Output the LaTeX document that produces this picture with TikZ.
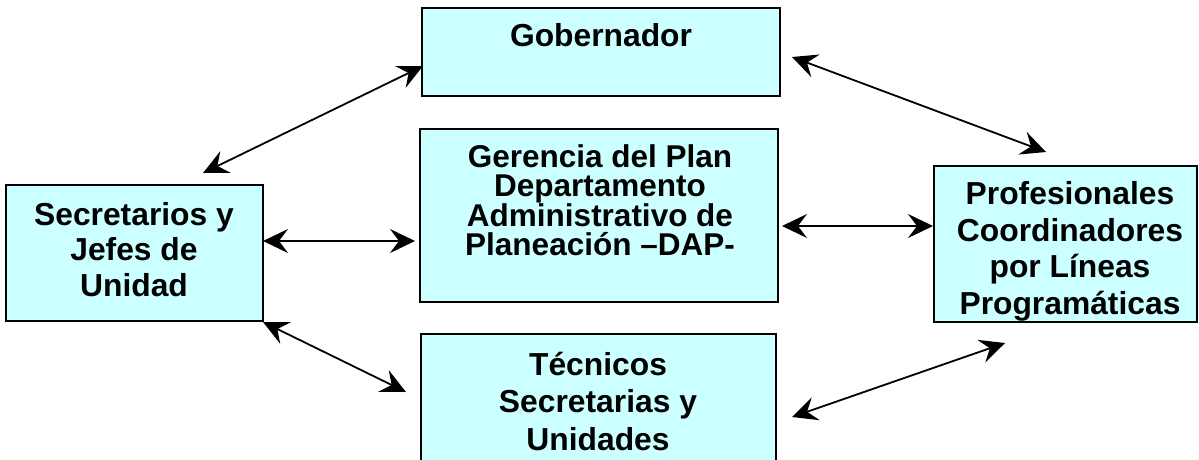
\documentclass[tikz,border=0pt]{standalone}
\usepackage{fontspec}
\setmainfont{Liberation Sans}
\usetikzlibrary{arrows.meta}
\definecolor{boxfill}{HTML}{CCFFFF}
\begin{document}
\begin{tikzpicture}[x=1pt,y=-1pt,
  box/.style={draw=black,line width=1.8pt,fill=boxfill,inner sep=0pt},
  lbl/.style={anchor=base,align=center,inner sep=0pt,font=\bfseries\fontsize{31.8}{36}\selectfont},
  link/.style={line width=1.8pt,{Stealth[length=25pt,width=24pt,inset=9pt]}-{Stealth[length=25pt,width=24pt,inset=9pt]}}]
\useasboundingbox (0,0) rectangle (1199,459);
% boxes
\node[box,minimum width=358pt,minimum height=88pt] (gob) at (601,52) {};
\node[box,minimum width=257pt,minimum height=136pt] (sec) at (134.5,253) {};
\node[box,minimum width=358pt,minimum height=173pt] (ger) at (599,215.5) {};
\node[box,minimum width=263pt,minimum height=156pt] (prof) at (1065.5,244) {};
\node[box,minimum width=355pt,minimum height=140pt] (tec) at (598.5,404) {};
% texts (anchor base = baseline of the last line)
\node[lbl] (tgob) at (601,46) {Gobernador};
\node[lbl,font=\bfseries\fontsize{31.5}{28.6}\selectfont] (tger) at (600,255) {Gerencia del Plan\\Departamento\\Administrativo de\\Planeación –DAP-};
\node[lbl,font=\bfseries\fontsize{31.8}{35.5}\selectfont] (tsec) at (134,296) {Secretarios y\\Jefes de\\Unidad};
\begin{scope}
\clip (prof.south west) rectangle (prof.north east);
\node[lbl,font=\bfseries\fontsize{31.8}{36.5}\selectfont] (tprof) at (1070,314) {Profesionales\\Coordinadores\\por Líneas\\Programáticas};
\end{scope}
\node[lbl,font=\bfseries\fontsize{31.8}{37.5}\selectfont] (ttec) at (598,450) {Técnicos\\Secretarias y\\Unidades};
% connector ends
\coordinate (s1) at (203,173); \coordinate (g1) at (423,66);
\coordinate (g2) at (792,57);  \coordinate (p1) at (1046,152);
\coordinate (s2) at (263,241); \coordinate (e1) at (415,241);
\coordinate (e2) at (782,226); \coordinate (p2) at (933,226);
\coordinate (s3) at (263,322); \coordinate (t1) at (406,392);
\coordinate (t2) at (792,417); \coordinate (p3) at (1005,343);
\draw[link] (s1) -- (g1);
\draw[link] (g2) -- (p1);
\draw[link] (s2) -- (e1);
\draw[link] (e2) -- (p2);
\draw[link] (s3) -- (t1);
\draw[link] (t2) -- (p3);
\end{tikzpicture}
\end{document}
